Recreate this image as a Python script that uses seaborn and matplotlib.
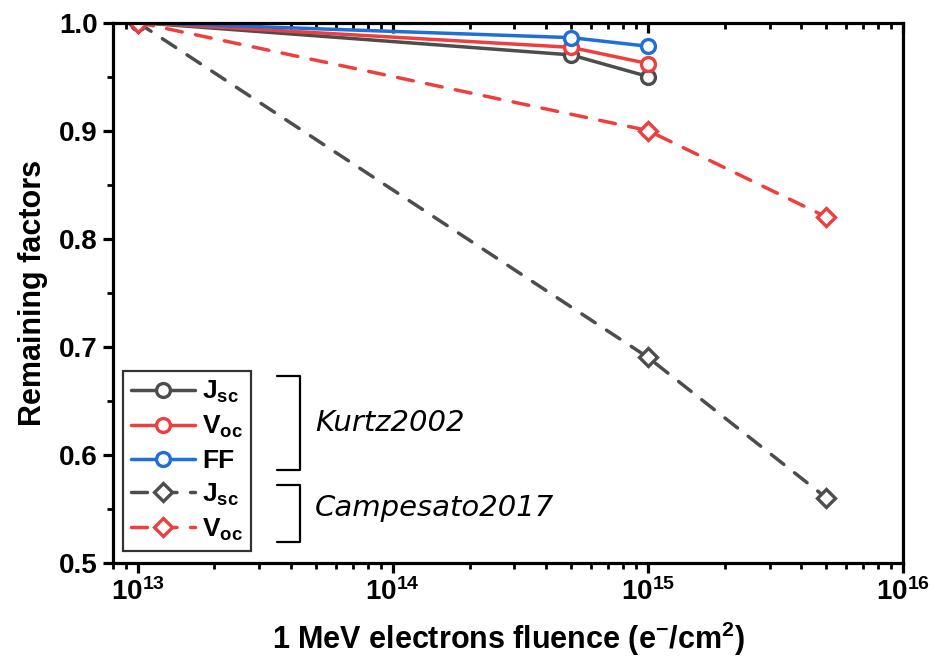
import pandas as pd
import numpy as np
import matplotlib.pyplot as plt
import seaborn as sns
from matplotlib.ticker import LogLocator, MultipleLocator, NullFormatter

# Data
kurtz_fluence = [1e13, 5e14, 1e15]
kurtz_jsc = [1.0, 0.970, 0.950]
kurtz_voc = [1.0, 0.977, 0.962]
kurtz_ff = [1.0, 0.986, 0.978]

camp_fluence = [1e13, 1e15, 5e15]
camp_jsc = [1.0, 0.69, 0.56]
camp_voc = [1.0, 0.90, 0.82]

GRAY = "#4d4d4d"
RED = "#ef3e3e"
BLUE = "#1e6fd9"

sns.set_theme(style="ticks")
plt.rcParams['font.family'] = ['Liberation Sans', 'DejaVu Sans']
plt.rcParams['font.weight'] = 'bold'
plt.rcParams['mathtext.fontset'] = 'custom'
plt.rcParams['mathtext.rm'] = 'Liberation Sans:bold'
plt.rcParams['mathtext.bf'] = 'Liberation Sans:bold'
plt.rcParams['mathtext.it'] = 'Liberation Sans:bold'
plt.rcParams['mathtext.default'] = 'bf'
for k in ['text.color', 'axes.labelcolor', 'xtick.color', 'ytick.color', 'axes.edgecolor']:
    plt.rcParams[k] = 'black'

fig = plt.figure(figsize=(9.33, 6.58), dpi=100)
ax = fig.add_axes([0.1211, 0.1451, 0.9678 - 0.1211, 0.9658 - 0.1451])

series = [
    (kurtz_fluence, kurtz_jsc, GRAY, False, "o", r"J$_{sc}$"),
    (kurtz_fluence, kurtz_voc, RED, False, "o", r"V$_{oc}$"),
    (kurtz_fluence, kurtz_ff, BLUE, False, "o", "FF"),
    (camp_fluence, camp_jsc, GRAY, True, "D", r"J$_{sc}$"),
    (camp_fluence, camp_voc, RED, True, "D", r"V$_{oc}$"),
]

for x, y, c, dashed, mk, lbl in series:
    df = pd.DataFrame({"x": x, "y": y})
    ms = 10 if mk == "o" else 9.5
    sns.lineplot(data=df, x="x", y="y", ax=ax, color=c,
                 linewidth=2.5, marker=mk, markersize=ms,
                 markerfacecolor="white", markeredgecolor=c, markeredgewidth=2.4,
                 label=lbl)
    line = ax.lines[-1]
    if dashed:
        line.set_dashes((4.6, 3.9))
        line.set_dash_capstyle("round")

ax.set_xscale("log")
ax.set_xlim(8e12, 1e16)
ax.set_ylim(0.5, 1.0)
ax.yaxis.set_major_locator(MultipleLocator(0.1))
ax.yaxis.set_minor_locator(MultipleLocator(0.05))
ax.xaxis.set_major_locator(LogLocator(base=10, numticks=10))
ax.xaxis.set_minor_locator(LogLocator(base=10, subs=np.arange(2, 10), numticks=20))
ax.xaxis.set_minor_formatter(NullFormatter())

for s in ax.spines.values():
    s.set_linewidth(2.3)
    s.set_visible(True)
ax.tick_params(which="major", length=7, width=2.3, labelsize=20, direction="out", pad=4)
ax.tick_params(which="minor", length=4, width=2.0, direction="out")
ax.tick_params(axis="x", which="both", top=True, labeltop=False)
# top ticks point inward
for tl in ax.xaxis.get_major_ticks() + ax.xaxis.get_minor_ticks():
    tl.tick2line.set_marker(3)
ax.tick_params(axis="y", which="both", right=False, labelright=False)

ax.set_xlabel(r"1 MeV electrons fluence (e$^{-}$/cm$^{2}$)", fontsize=22, fontweight="bold", labelpad=10)
ax.set_ylabel("Remaining factors", fontsize=22, fontweight="bold", labelpad=8)

leg = ax.legend(loc="lower left", bbox_to_anchor=(0.013, 0.022), fontsize=19,
                frameon=True, fancybox=False, edgecolor="black", handlelength=2.4,
                labelspacing=0.33, borderpad=0.3, handletextpad=0.3, borderaxespad=0)
leg.get_frame().set_linewidth(1.6)
for t in leg.get_texts():
    t.set_fontweight("bold")

# brackets grouping the legend entries
def bracket(y0, y1):
    xs = [0.2076, 0.2367, 0.2367, 0.2076]
    ax.plot(xs, [y1, y1, y0, y0], transform=ax.transAxes, color="black",
            linewidth=1.6, clip_on=False)

bracket(0.1713, 0.3454)
bracket(0.038, 0.1435)
ax.text(0.2557, 0.2583, "Kurtz2002", transform=ax.transAxes, fontsize=21,
        family="DejaVu Sans", fontstyle="oblique", fontweight="normal", va="center")
ax.text(0.2557, 0.101, "Campesato2017", transform=ax.transAxes, fontsize=21,
        family="DejaVu Sans", fontstyle="oblique", fontweight="normal", va="center")

plt.savefig("out.png", dpi=100)
